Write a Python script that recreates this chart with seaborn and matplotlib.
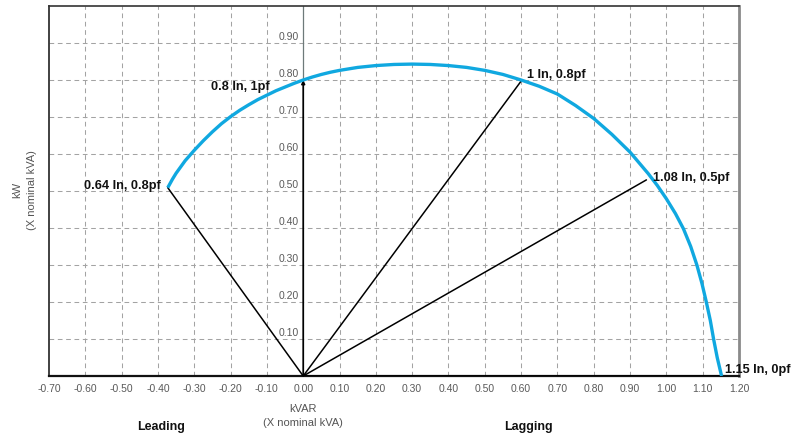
import numpy as np
import pandas as pd
import seaborn as sns
import matplotlib.pyplot as plt

# capability curve (kVAR, kW in per unit of nominal kVA)
arc_kvar = [-0.373, -0.36, -0.35, -0.325, -0.30, -0.275, -0.25, -0.225, -0.20, -0.175,
            -0.15, -0.125, -0.10, -0.075, -0.05, -0.025, 0.00, 0.025, 0.05, 0.075,
            0.10, 0.15, 0.20, 0.25, 0.30, 0.35, 0.40, 0.45, 0.50, 0.55,
            0.60, 0.65, 0.70, 0.75, 0.80, 0.85, 0.90, 0.95, 0.975, 1.00, 1.025,
            1.047, 1.067, 1.084, 1.098, 1.11, 1.121, 1.13, 1.135, 1.14, 1.146, 1.152]
arc_kw = [0.509, 0.532, 0.548, 0.582, 0.610, 0.636, 0.660, 0.682, 0.701, 0.718,
          0.733, 0.747, 0.759, 0.771, 0.781, 0.791, 0.800, 0.808, 0.815, 0.821,
          0.826, 0.834, 0.839, 0.842, 0.843, 0.842, 0.839, 0.834, 0.826, 0.815,
          0.800, 0.783, 0.762, 0.731, 0.696, 0.653, 0.605, 0.547, 0.515, 0.479, 0.439,
          0.398, 0.35, 0.30, 0.25, 0.20, 0.15, 0.10, 0.075, 0.05, 0.025, 0.0]

# operating points
op_labels = ["0.64 In, 0.8pf", "0.8 In, 1pf", "1 In, 0.8pf", "1.08 In, 0.5pf", "1.15 In, 0pf"]
op_kvar = [-0.373, 0.0, 0.60, 0.945, 1.152]
op_kw = [0.509, 0.80, 0.797, 0.53, 0.0]

x_ticks = [-0.70, -0.60, -0.50, -0.40, -0.30, -0.20, -0.10, 0.00, 0.10, 0.20,
           0.30, 0.40, 0.50, 0.60, 0.70, 0.80, 0.90, 1.00, 1.10, 1.20]
y_ticks = [0.10, 0.20, 0.30, 0.40, 0.50, 0.60, 0.70, 0.80, 0.90]

sns.set_style("white")
plt.rcParams['font.family'] = ['Liberation Sans', 'DejaVu Sans']

W, H = 797, 437
fig = plt.figure(figsize=(W / 100, H / 100), dpi=100)
ax = fig.add_axes([49 / W, 1 - 376 / H, 690 / W, 370 / H])

ax.set_xlim(-0.70, 1.20)
ax.set_ylim(0, 1.0)

# dashed grid
grid_kw = dict(color='#a3a3a3', lw=0.75, ls=(0, (4.5, 3.5)), zorder=0)
for gx in x_ticks[1:-1]:
    if abs(gx) > 1e-9:
        ax.axvline(gx, **grid_kw)
for gy in y_ticks:
    ax.axhline(gy, **grid_kw)

# kW axis at kVAR = 0
ax.axvline(0, color='#6e7a7a', lw=0.9, zorder=1)

# capability curve
curve = pd.DataFrame({'kvar': arc_kvar, 'kw': arc_kw})
sns.lineplot(data=curve, x='kvar', y='kw', sort=False, color='#10a8e0', lw=2.4,
             ax=ax, zorder=4, solid_joinstyle='round', solid_capstyle='butt')

# rays from origin
offsets = [(-5, 1.5, 'right'), (-24, -5, 'right'), (4.5, 4.5, 'left'),
           (5, 1.5, 'left'), (2.4, 4.3, 'left')]
for lab, x, y, (dx, dy, ha) in zip(op_labels, op_kvar, op_kw, offsets):
    if x == 0.0:
        ax.annotate('', xy=(x, y), xytext=(0, 0),
                    arrowprops=dict(arrowstyle='-|>', color='black', lw=1.2,
                                    mutation_scale=5, shrinkA=0, shrinkB=0), zorder=3)
    else:
        ax.plot([0, x], [0, y], color='black', lw=1.1, zorder=3)
    ax.annotate(lab, xy=(x, y), xytext=(dx, dy), textcoords='offset points',
                ha=ha, va='center', fontsize=9.2, color='#111111',
                fontweight='bold', annotation_clip=False, zorder=5)

# x ticks
ax.set_xticks(x_ticks)
ax.set_xticklabels([f"{v:.2f}" for v in x_ticks], fontsize=7.5, color='#5a5a5a')
ax.tick_params(axis='x', length=0, pad=6)
ax.set_yticks([])
ax.set_xlabel('')
ax.set_ylabel('')

# y tick labels sit on the kW axis
for v in y_ticks:
    ax.text(-0.012, v + 0.004, f"{v:.2f}", ha='right', va='bottom',
            fontsize=7.5, color='#5a5a5a')

# frame
for side, col, lw in [('left', '#333333', 1.3), ('top', '#333333', 1.2),
                      ('right', '#8a8a8a', 2.0), ('bottom', '#111111', 1.6)]:
    ax.spines[side].set_visible(True)
    ax.spines[side].set_color(col)
    ax.spines[side].set_linewidth(lw)

# axis titles
fig.text(25 / W, 1 - 190 / H, "kW\n(X nominal kVA)", rotation=90, ha='center', va='center',
         fontsize=8, color='#555555', multialignment='center', linespacing=1.6)
fig.text(303 / W, 1 - 416 / H, "kVAR\n(X nominal kVA)", ha='center', va='center',
         fontsize=8, color='#555555', multialignment='center', linespacing=1.45)
fig.text(161 / W, 1 - 427 / H, "Leading", ha='center', va='center', fontsize=9,
         fontweight='bold', color='#111111')
fig.text(528 / W, 1 - 427 / H, "Lagging", ha='center', va='center', fontsize=9,
         fontweight='bold', color='#111111')

fig.savefig('out.png', dpi=100)
